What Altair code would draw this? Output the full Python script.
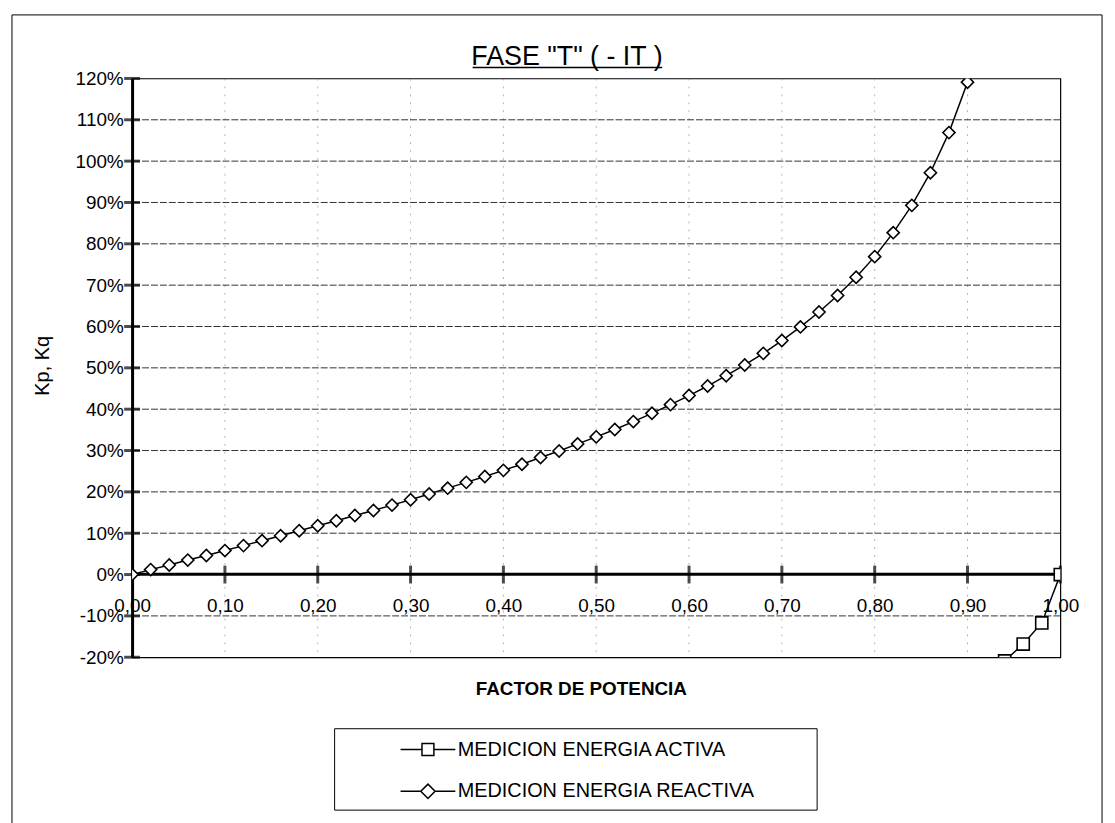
import altair as alt
import pandas as pd

# ---------------- data ----------------
series = ["MEDICION ENERGIA ACTIVA", "MEDICION ENERGIA REACTIVA"]

pf_reactiva = [0.00, 0.02, 0.04, 0.06, 0.08, 0.10, 0.12, 0.14, 0.16, 0.18,
               0.20, 0.22, 0.24, 0.26, 0.28, 0.30, 0.32, 0.34, 0.36, 0.38,
               0.40, 0.42, 0.44, 0.46, 0.48, 0.50, 0.52, 0.54, 0.56, 0.58,
               0.60, 0.62, 0.64, 0.66, 0.68, 0.70, 0.72, 0.74, 0.76, 0.78,
               0.80, 0.82, 0.84, 0.86, 0.88, 0.90, 0.92]
kq_reactiva = [0.0, 1.2, 2.3, 3.5, 4.6, 5.8, 7.0, 8.2, 9.4, 10.6,
               11.8, 13.0, 14.3, 15.5, 16.8, 18.1, 19.5, 20.9, 22.3, 23.7,
               25.2, 26.7, 28.3, 29.9, 31.6, 33.3, 35.1, 37.0, 39.0, 41.1,
               43.3, 45.6, 48.1, 50.7, 53.5, 56.6, 59.9, 63.5, 67.5, 71.9,
               76.9, 82.7, 89.3, 97.2, 106.9, 119.1, 135.4]

pf_activa = [0.92, 0.94, 0.96, 0.98, 1.00]
kp_activa = [-24.6, -20.9, -16.8, -11.7, 0.0]

x_ticks = [0.0, 0.1, 0.2, 0.3, 0.4, 0.5, 0.6, 0.7, 0.8, 0.9, 1.0]
y_ticks = [-0.2, -0.1, 0.0, 0.1, 0.2, 0.3, 0.4, 0.5, 0.6, 0.7, 0.8, 0.9, 1.0, 1.1, 1.2]
y_grid = [-0.1, 0.1, 0.2, 0.3, 0.4, 0.5, 0.6, 0.7, 0.8, 0.9, 1.0, 1.1]
x_grid = [0.1, 0.2, 0.3, 0.4, 0.5, 0.6, 0.7, 0.8, 0.9]

title_text = 'FASE "T" ( - IT )'
x_title = "FACTOR DE POTENCIA"
y_title = "Kp, Kq"

# ---------------- tables ----------------
rows = []
for p, v in zip(pf_activa, kp_activa):
    rows.append({"pf": p, "k": v / 100.0, "serie": series[0]})
for p, v in zip(pf_reactiva, kq_reactiva):
    rows.append({"pf": p, "k": v / 100.0, "serie": series[1]})
df = pd.DataFrame(rows)

FONT = "Liberation Sans"
xs = alt.Scale(domain=[0, 1], nice=False, zero=False)
ys = alt.Scale(domain=[-0.2, 1.2], nice=False, zero=False)

x_axis = alt.Axis(
    values=x_ticks,
    labelExpr="replace(format(datum.value, '.2f'), '.', ',')",
    offset=-84, domainColor="black", domainWidth=3, ticks=False, grid=False,
    labelFont=FONT, labelFontSize=19, labelColor="black", labelPadding=32,
    labelBaseline="middle", labelFlush=False, labelOverlap=False,
    title=x_title, titleFont=FONT, titleFontSize=19, titleFontWeight="bold",
    titleColor="black", titleX=452, titleY=122, titleBaseline="alphabetic",
    titleAlign="center",
)
y_axis = alt.Axis(
    values=y_ticks,
    labelExpr="round(datum.value * 100) + '%'",
    domainColor="black", domainWidth=3, ticks=False, grid=False,
    labelFont=FONT, labelFontSize=19, labelColor="black", labelPadding=9,
    labelFlush=False, labelOverlap=False,
    title=y_title, titleFont=FONT, titleFontSize=20, titleFontWeight="normal",
    titleColor="black", titleX=-90, titleY=289, titleAngle=-90,
    titleBaseline="middle", titleAlign="center",
)

one = alt.Data(values=[{"a": 1}])

# outer frame of the chart sheet
frame = alt.Chart(one).mark_rect(fill="white", fillOpacity=0, stroke="black", strokeWidth=1).encode(
    x=alt.value(-121), x2=alt.value(977), y=alt.value(-64), y2=alt.value(757)
)
# legend box
legbox = alt.Chart(one).mark_rect(fill="white", fillOpacity=0, stroke="black", strokeWidth=1).encode(
    x=alt.value(204), x2=alt.value(690), y=alt.value(655), y2=alt.value(737)
)

hgrid = alt.Chart(pd.DataFrame({"g": y_grid})).mark_rule(
    color="#333333", strokeWidth=1, strokeDash=[7, 2]
).encode(y=alt.Y("g:Q", scale=ys, axis=y_axis))

vgrid = alt.Chart(pd.DataFrame({"g": x_grid})).mark_rule(
    color="#777777", strokeWidth=1, strokeDash=[2, 6], opacity=0.55
).encode(x=alt.X("g:Q", scale=xs, axis=x_axis))

line = alt.Chart(df).mark_line(color="black", strokeWidth=1.5, clip=True).encode(
    x=alt.X("pf:Q", scale=xs, axis=x_axis),
    y=alt.Y("k:Q", scale=ys, axis=y_axis),
    detail="serie:N",
)

xticks = alt.Chart(pd.DataFrame({"t": x_ticks[1:]})).mark_tick(
    orient="vertical", color="black", thickness=3, size=18
).encode(x=alt.X("t:Q", scale=xs, axis=x_axis), y=alt.YDatum(0, scale=ys, axis=y_axis))

yticks = alt.Chart(pd.DataFrame({"t": y_ticks})).mark_tick(
    orient="horizontal", color="black", thickness=3, size=16
).encode(y=alt.Y("t:Q", scale=ys, axis=y_axis), x=alt.XDatum(0, scale=xs, axis=x_axis))

pts = alt.Chart(df).mark_point(
    filled=True, fill="white", stroke="black", strokeWidth=1.6, size=150, opacity=1, clip=True
).encode(
    x=alt.X("pf:Q", scale=xs, axis=x_axis),
    y=alt.Y("k:Q", scale=ys, axis=y_axis),
    shape=alt.Shape("serie:N", scale=alt.Scale(domain=series, range=["square", "diamond"]), legend=None),
)

sq_path = "M-4.6,0L-1,0M1,0L4.6,0M-1,-1L1,-1L1,1L-1,1Z"
di_path = "M-4.6,0L-1.2,0M1.2,0L4.6,0M-1.2,0L0,-1.2L1.2,0L0,1.2Z"

leg = alt.Chart(df).mark_point(opacity=0, color="black").encode(
    x=alt.X("pf:Q", scale=xs, axis=x_axis),
    y=alt.Y("k:Q", scale=ys, axis=y_axis),
    shape=alt.Shape(
        "serie:N",
        scale=alt.Scale(domain=series, range=[sq_path, di_path]),
        legend=alt.Legend(
            title=None, orient="none", legendX=204, legendY=655, direction="vertical",
            labelFont=FONT, labelFontSize=20, labelColor="black", labelLimit=0,
            padding=11, rowPadding=21,
            symbolSize=144, symbolStrokeWidth=1.5, symbolFillColor="white",
            symbolStrokeColor="black", symbolOpacity=1, symbolOffset=73, labelOffset=20,
        ),
    ),
)

title = alt.Chart(one).mark_text(
    text=title_text, font=FONT,
    fontSize=27, color="black", align="center", baseline="alphabetic"
).encode(x=alt.value(438), y=alt.value(-14))

underline = alt.Chart(one).mark_rule(color="black", strokeWidth=1.5).encode(
    x=alt.value(343), x2=alt.value(534), y=alt.value(-11)
)

chart = alt.layer(
    frame, legbox, vgrid, hgrid, line, xticks, yticks, pts, leg, title, underline
).resolve_scale(shape="independent").properties(
    width=935, height=583,
    autosize=alt.AutoSizeParams(type="none"),
    padding={"left": 125, "top": 68, "right": 47, "bottom": 164},
).configure(font=FONT).configure_view(stroke="black", strokeWidth=1.2)

chart.save("out.html", embed_options={"renderer": "svg", "actions": False})
